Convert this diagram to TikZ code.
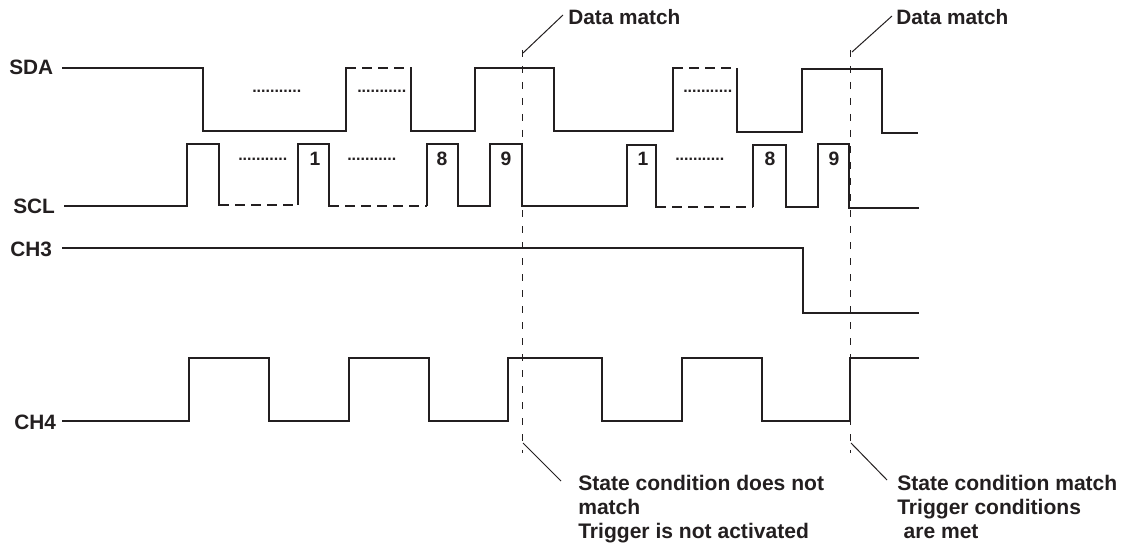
\documentclass[tikz,border=0pt]{standalone}
\usepackage{fontspec}
\setmainfont{Liberation Sans}
\definecolor{ink}{HTML}{231F20}
\begin{document}
\begin{tikzpicture}[x=0.75pt,y=-0.75pt,
  wave/.style={draw=ink, line width=2pt, line join=miter, line cap=rect},
  wavedash/.style={draw=ink, line width=2pt, line cap=butt, dash pattern=on 7.5pt off 4.5pt},
  guide/.style={draw=ink, line width=0.75pt, dash pattern=on 5.25pt off 6.75pt},
  leader/.style={draw=ink, line width=0.75pt},
  lbl/.style={font=\fontsize{15.6}{18}\selectfont\bfseries, text=ink, inner sep=0pt, anchor=base west},
  num/.style={font=\fontsize{14.5}{16}\selectfont\bfseries, text=ink, inner sep=0pt, anchor=base},
  dotrow/.style={font=\fontsize{12}{14}\selectfont\bfseries, text=ink, inner sep=0pt, anchor=base west},
  note/.style={font=\fontsize{15.8}{18}\selectfont\bfseries, text=ink, inner sep=0pt, anchor=north west, align=left}]
\useasboundingbox (0,0) rectangle (1131,549);

% labels
\node[lbl] (sda) at (9,74.5) {SDA};
\node[lbl] (scl) at (13,213.5) {SCL};
\node[lbl] (ch3) at (10,256.5) {CH3};
\node[lbl] (ch4) at (14,429.5) {CH4};

% SDA
\draw[wave] (63,68) -- (203,68) -- (203,131) -- (346,131) -- (346,68);
\draw[wavedash] (346,68) -- (411,68);
\draw[wave] (411,68) -- (411,131) -- (475,131) -- (475,68) -- (554,68) -- (554,131) -- (673,131) -- (673,68);
\draw[wavedash] (673,68) -- (737,68);
\draw[wave] (737,69) -- (737,132) -- (802,132) -- (802,69) -- (882,69) -- (882,133) -- (917,133);

% SCL
\draw[wave] (65,206) -- (187,206) -- (187,144) -- (219,144) -- (219,205);
\draw[wavedash] (219,205) -- (298,205);
\draw[wave] (298,204) -- (298,144) -- (329,144) -- (329,206);
\draw[wavedash] (329,206) -- (427,206);
\draw[wave] (427,205) -- (427,144) -- (458,144) -- (458,206) -- (490,206) -- (490,144) -- (522,144) -- (522,206) -- (627,206) -- (627,145) -- (656,145) -- (656,207);
\draw[wavedash] (656,207) -- (753,207);
\draw[wave] (753,206) -- (753,145) -- (786,145) -- (786,207) -- (818,207) -- (818,144) -- (849,144) -- (849,208) -- (918,208);

% CH3
\draw[wave] (63,248) -- (803,248) -- (803,313) -- (918,313);

% CH4
\draw[wave] (63,421) -- (189,421) -- (189,358) -- (269,358) -- (269,421) -- (349,421) -- (349,358) -- (429,358) -- (429,421) -- (508,421) -- (508,358) -- (602,358) -- (602,421) -- (682,421) -- (682,358) -- (762,358) -- (762,421) -- (850,421) -- (850,358) -- (918,358);

% dotted ellipses
\node[dotrow] (d1) at (252,92.5) {...........};
\node[dotrow] (d2) at (357,92.5) {...........};
\node[dotrow] (d3) at (683,92.5) {...........};
\node[dotrow] (d4) at (238,161) {...........};
\node[dotrow] (d5) at (347,161) {...........};
\node[dotrow] (d6) at (675,161) {...........};

% bit numbers
\node[num] (b1a) at (315,166) {1};
\node[num] (b8a) at (442,166) {8};
\node[num] (b9a) at (506,166) {9};
\node[num] (b1b) at (643,166) {1};
\node[num] (b8b) at (770,166) {8};
\node[num] (b9b) at (834,166) {9};

% guide lines
\coordinate (g1t) at (522,50);
\coordinate (g1b) at (522,453);
\coordinate (g2t) at (850,50);
\coordinate (g2b) at (850,453);
\draw[guide] (g1t) -- (g1b);
\draw[guide] (g2t) -- (g2b);

% top annotations
\node[lbl] (dm1) at (568,25) {Data match};
\node[lbl] (dm2) at (896,25) {Data match};
\coordinate (l1a) at (523,53);
\coordinate (l1b) at (563,15);
\coordinate (l2a) at (852,52);
\coordinate (l2b) at (892,16);
\draw[leader] (l1a) -- (l1b);
\draw[leader] (l2a) -- (l2b);

% bottom annotations
\node[note] (n1) at (578,475) {State condition does not\\match\\Trigger is not activated};
\node[note] (n2) at (897,475) {State condition match\\Trigger conditions\\\hspace*{0.3em}are met};
\coordinate (l3a) at (523,443);
\coordinate (l3b) at (561,481);
\coordinate (l4a) at (851,443);
\coordinate (l4b) at (887,480);
\draw[leader] (l3a) -- (l3b);
\draw[leader] (l4a) -- (l4b);
\end{tikzpicture}
\end{document}
